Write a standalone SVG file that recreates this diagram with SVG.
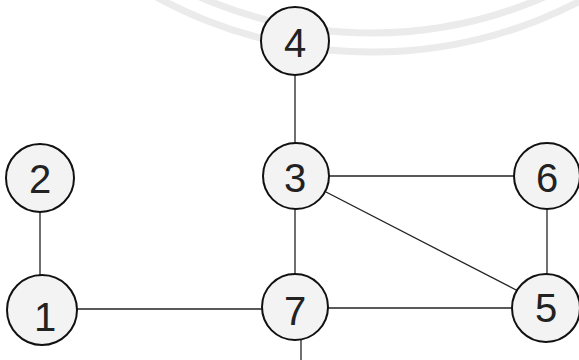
<svg xmlns="http://www.w3.org/2000/svg" width="579" height="360" viewBox="0 0 579 360">
<style>
.wm{fill:none;stroke:#ebebeb;stroke-width:7}
.edge{stroke:#222;stroke-width:1.3;fill:none}
.node circle{fill:#f3f3f3;stroke:#111;stroke-width:2}
.node text{font-family:"Liberation Sans",Arial,sans-serif;font-size:40px;fill:#222;text-anchor:middle;dominant-baseline:central}
</style>
<rect width="579" height="360" fill="#ffffff"/>
<g id="watermark">
<circle class="wm" cx="372" cy="-398" r="450"/>
<circle class="wm" cx="372" cy="-397" r="430"/>
</g>
<g id="connectors">
<line class="edge" x1="295" y1="41" x2="295" y2="176"/>
<line class="edge" x1="295" y1="176" x2="547" y2="176"/>
<line class="edge" x1="295" y1="176" x2="520" y2="292"/>
<line class="edge" x1="295" y1="176" x2="295" y2="307"/>
<line class="edge" x1="547" y1="176" x2="547" y2="308"/>
<line class="edge" x1="40" y1="178" x2="40" y2="310"/>
<line class="edge" x1="42" y1="309" x2="295" y2="309"/>
<line class="edge" x1="295" y1="308" x2="546" y2="308"/>
<line class="edge" x1="301" y1="330" x2="301" y2="360"/>
</g>
<g id="node4" class="node"><circle cx="295" cy="41" r="34"/><text x="295" y="43">4</text></g>
<g id="node3" class="node"><circle cx="296" cy="176" r="33"/><text x="295" y="178">3</text></g>
<g id="node6" class="node"><circle cx="547" cy="176" r="33"/><text x="547" y="178">6</text></g>
<g id="node2" class="node"><circle cx="40" cy="178" r="34"/><text x="40" y="179">2</text></g>
<g id="node1" class="node"><circle cx="42" cy="310" r="35"/><text x="45" y="317">1</text></g>
<g id="node7" class="node"><circle cx="295" cy="307" r="33"/><text x="295" y="311">7</text></g>
<g id="node5" class="node"><circle cx="546" cy="308" r="34"/><text x="546" y="308">5</text></g>
</svg>
